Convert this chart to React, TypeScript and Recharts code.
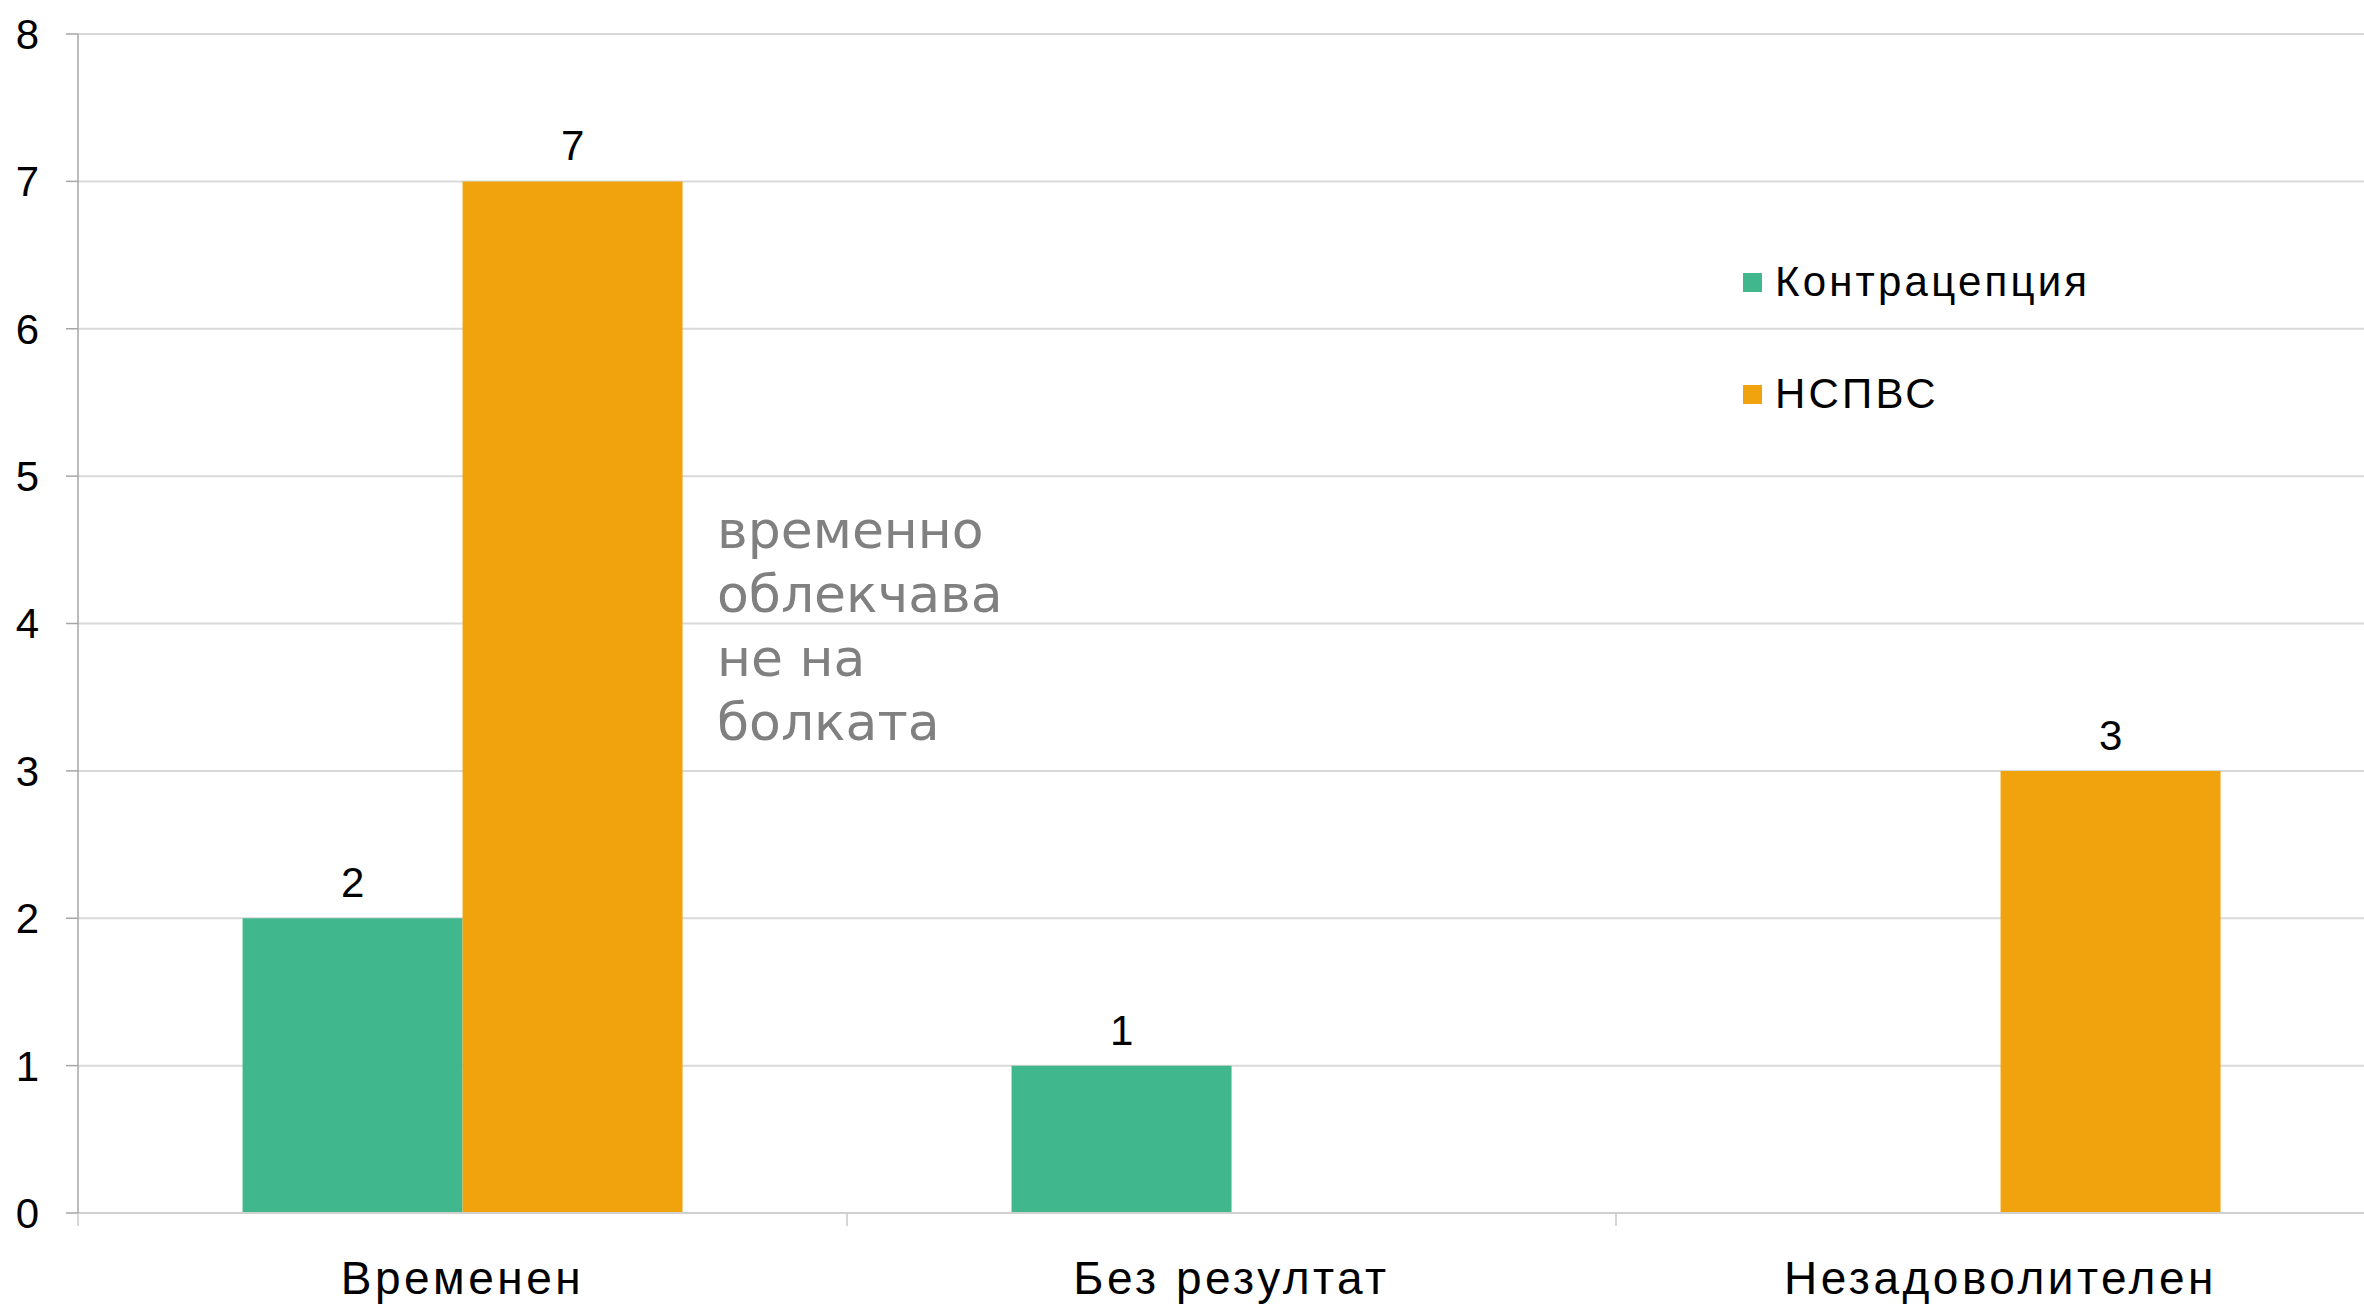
import React from "react";
import { BarChart, Bar, XAxis, YAxis, CartesianGrid, LabelList, Legend } from "recharts";

const categories = ["Временен", "Без резултат", "Незадоволителен"];
const contraception = [2, 1, 0];
const nsaid = [7, 0, 3];
const yTicks = [0, 1, 2, 3, 4, 5, 6, 7, 8];
const seriesNames = ["Контрацепция", "НСПВС"];
const seriesColors = ["#41b78e", "#f0a30d"];
const annotationLines = ["временно", "облекчава", "не на", "болката"];

const data = categories.map((c, i) => ({ name: c, a: contraception[i], b: nsaid[i] }));

const XTick = (props: any) => {
  const { x, y, payload } = props;
  const off = payload.offset || 0;
  return (
    <g>
      <line x1={x - off} x2={x - off} y1={y - 50} y2={y - 37} stroke="#c8c8c8" strokeWidth={1.5} />
      <text
        x={x}
        y={y + 31}
        textAnchor="middle"
        fill="#000"
        fontFamily="Liberation Sans, Arial, sans-serif"
        fontSize={46}
        letterSpacing={3.5}
      >
        {payload.value}
      </text>
    </g>
  );
};

const renderLabel = (props: any) => {
  const { x, y, width, value } = props;
  if (!value) return null;
  return (
    <text
      x={x + width / 2}
      y={y - 21}
      textAnchor="middle"
      fill="#000"
      fontFamily="Liberation Sans, Arial, sans-serif"
      fontSize={42}
    >
      {value}
    </text>
  );
};

const LegendContent = () => (
  <div style={{ fontFamily: "Liberation Sans, Arial, sans-serif", fontSize: 42, color: "#000" }}>
    {seriesNames.map((n, i) => (
      <div key={n} style={{ display: "flex", alignItems: "center", height: 112, letterSpacing: 3.2 }}>
        <div style={{ width: 19, height: 19, background: seriesColors[i], marginRight: 13 }} />
        <span>{n}</span>
      </div>
    ))}
  </div>
);

export default function App() {
  return (
    <div
      style={{
        position: "absolute",
        left: 0,
        top: 0,
        width: 2364,
        height: 1304,
        overflow: "hidden",
        background: "#fff",
      }}
    >
      <BarChart
        width={2385}
        height={1304}
        data={data}
        margin={{ top: 34, right: 0, bottom: 0, left: 0 }}
        barCategoryGap="21.4%"
        barGap={0}
      >
        <CartesianGrid horizontal vertical={false} stroke="#d9d9d9" strokeWidth={2} />
        <XAxis
          dataKey="name"
          height={91}
          tickSize={0}
          tickMargin={50}
          axisLine={{ stroke: "#d0d0d0", strokeWidth: 2 }}
          tickLine={false}
          tick={<XTick />}
          interval={0}
        />
        <YAxis
          width={78}
          domain={[0, 8]}
          ticks={yTicks}
          interval={0}
          tickSize={12}
          tickMargin={27}
          axisLine={{ stroke: "#a6a6a6", strokeWidth: 1.5 }}
          tickLine={{ stroke: "#a6a6a6", strokeWidth: 1.5 }}
          tick={{ fill: "#000", fontSize: 42, fontFamily: "Liberation Sans, Arial, sans-serif" }}
        />
        <Legend
          layout="vertical"
          align="center"
          verticalAlign="middle"
          content={<LegendContent />}
          wrapperStyle={{ left: 1743, top: 226, width: 500, height: 224 }}
        />
        <Bar dataKey="a" name={seriesNames[0]} fill={seriesColors[0]} isAnimationActive={false}>
          <LabelList dataKey="a" content={renderLabel} />
        </Bar>
        <Bar dataKey="b" name={seriesNames[1]} fill={seriesColors[1]} isAnimationActive={false}>
          <LabelList dataKey="b" content={renderLabel} />
        </Bar>
      </BarChart>
      <div
        style={{
          position: "absolute",
          left: 717,
          top: 498,
          fontFamily: "DejaVu Sans, Verdana, sans-serif",
          fontSize: 52,
          lineHeight: "64px",
          color: "#808080",
          whiteSpace: "nowrap",
        }}
      >
        {annotationLines.map((l) => (
          <div key={l}>{l}</div>
        ))}
      </div>
    </div>
  );
}
